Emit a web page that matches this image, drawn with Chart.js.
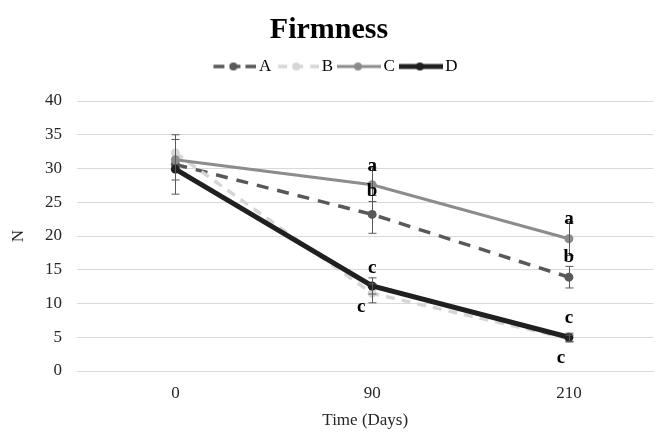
<!DOCTYPE html>
<html>
<head>
<meta charset="utf-8">
<script src="https://cdn.jsdelivr.net/npm/chart.js@4"></script>
<style>
  html, body { margin: 0; padding: 0; background: #fff; overflow: hidden; }
  #wrap { width: 658px; height: 433px; position: relative; }
</style>
</head>
<body>
<div id="wrap"><canvas id="chart"></canvas></div>
<script>
// values
const days = ['0', '90', '210'];
const valuesA = [30.6, 23.2, 13.9];
const valuesB = [32.3, 11.5, 4.8];
const valuesC = [31.3, 27.6, 19.6];
const valuesD = [29.9, 12.6, 5.0];
const errA = [4.4, 2.8, 1.6];
const errB = [0, 1.4, 0.5];
const errC = [3.0, 2.5, 2.5];
const errD = [0, 1.2, 0.6];
const lettersA = ['', 'b', 'b'];
const lettersB = ['', 'c', 'c'];
const lettersC = ['', 'a', 'a'];
const lettersD = ['', 'c', 'c'];
const yTicks = [0, 5, 10, 15, 20, 25, 30, 35, 40];

const serif = '"Liberation Serif", "DejaVu Serif", serif';

const series = [
  { label: 'A', data: valuesA, err: errA, letters: lettersA, color: '#595959', width: 3.5, dash: [12, 9], keyDash: [11, 5], order: 4, dy: [0, -23, -20], dx: [0, 0, 0] },
  { label: 'B', data: valuesB, err: errB, letters: lettersB, color: '#d6d6d6', width: 3.5, dash: [9, 7], keyDash: [9, 7], order: 3, dy: [0, 14, 19], dx: [0, -11, -8] },
  { label: 'C', data: valuesC, err: errC, letters: lettersC, color: '#8c8c8c', width: 3, dash: [], keyDash: [], order: 2, dy: [0, -19, -20], dx: [0, 0, 0] },
  { label: 'D', data: valuesD, err: errD, letters: lettersD, color: '#202020', width: 5, dash: [], keyDash: [], order: 1, dy: [0, -18, -19], dx: [0, 0, 0] }
];

// little line+dot sample for the legend
function legendSample(s) {
  const c = document.createElement('canvas');
  c.width = 44; c.height = 12;
  const g = c.getContext('2d');
  g.strokeStyle = s.color;
  g.lineWidth = s.width;
  g.setLineDash(s.keyDash);
  g.beginPath(); g.moveTo(44, 6); g.lineTo(0, 6); g.stroke();
  g.fillStyle = s.color;
  g.beginPath(); g.arc(21, 6, 4, 0, Math.PI * 2); g.fill();
  return c;
}

// room under the legend, and nudge it right like the original
const legendGap = {
  id: 'legendGap',
  beforeInit(chart) {
    const fit = chart.legend.fit;
    chart.legend.fit = function () {
      fit.bind(chart.legend)();
      this.height += 16;
    };
  },
  afterLayout(chart) {
    chart.legend.left += 9;
    chart.legend.right += 9;
  }
};

const extras = {
  id: 'extras',
  afterDatasetsDraw(chart) {
    const ctx = chart.ctx;
    const x = chart.scales.x, y = chart.scales.y;
    ctx.save();
    // error bars
    ctx.strokeStyle = '#595959';
    ctx.lineWidth = 1;
    series.forEach(s => {
      s.data.forEach((v, i) => {
        const e = s.err[i];
        if (!e) return;
        const px = Math.round(x.getPixelForValue(i)) + 0.5;
        const top = y.getPixelForValue(v + e), bot = y.getPixelForValue(v - e);
        ctx.beginPath();
        ctx.moveTo(px, top); ctx.lineTo(px, bot);
        ctx.moveTo(px - 4, top); ctx.lineTo(px + 4, top);
        ctx.moveTo(px - 4, bot); ctx.lineTo(px + 4, bot);
        ctx.stroke();
      });
    });
    // significance letters
    ctx.fillStyle = '#000';
    ctx.font = 'bold 19px ' + serif;
    ctx.textAlign = 'center';
    ctx.textBaseline = 'middle';
    series.forEach(s => {
      s.letters.forEach((t, i) => {
        if (!t) return;
        ctx.fillText(t, x.getPixelForValue(i) + s.dx[i], y.getPixelForValue(s.data[i]) + s.dy[i]);
      });
    });
    ctx.restore();
  }
};

new Chart(document.getElementById('chart'), {
  type: 'line',
  data: {
    datasets: series.map(s => ({
      label: s.label,
      data: s.data.map((v, i) => ({ x: i, y: v })),
      borderColor: s.color,
      backgroundColor: s.color,
      borderWidth: s.width,
      borderDash: s.dash,
      pointRadius: 4.5,
      pointBorderWidth: 0,
      pointBackgroundColor: s.color,
      order: s.order,
      tension: 0
    }))
  },
  options: {
    responsive: true,
    maintainAspectRatio: false,
    animation: false,
    layout: { padding: { left: 0, right: 0, top: 10, bottom: 0 } },
    plugins: {
      title: {
        display: true,
        text: 'Firmness',
        color: '#000',
        font: { family: serif, size: 30, weight: 'bold' },
        padding: { top: 2, bottom: 0 }
      },
      legend: {
        position: 'top',
        labels: {
          usePointStyle: true,
          pointStyleWidth: 32,
          padding: 10,
          color: '#000',
          font: { family: serif, size: 17 },
          generateLabels: () => series.map((s, i) => ({
            text: s.label,
            pointStyle: legendSample(s),
            datasetIndex: i,
            fontColor: '#000',
            strokeStyle: s.color,
            fillStyle: s.color,
            lineWidth: 0
          }))
        }
      },
      tooltip: { enabled: false }
    },
    scales: {
      x: {
        type: 'linear',
        min: -0.5,
        max: 2.43,
        afterFit: sc => { sc.height = 62; },
        afterBuildTicks: sc => { sc.ticks = days.map((d, i) => ({ value: i })); },
        grid: { display: false },
        border: { display: true, color: '#d9d9d9' },
        ticks: { color: '#262626', font: { family: serif, size: 17 }, padding: 4, callback: v => days[v] },
        title: { display: true, text: 'Time (Days)', color: '#262626', font: { family: serif, size: 17 }, padding: { top: 4, bottom: 2 } }
      },
      y: {
        min: 0,
        max: 40,
        afterFit: sc => { sc.width = 77; },
        afterBuildTicks: sc => { sc.ticks = yTicks.map(v => ({ value: v })); },
        grid: { color: '#d9d9d9', drawTicks: false },
        border: { display: false },
        ticks: { color: '#262626', font: { family: serif, size: 17 }, padding: 15 },
        title: { display: true, text: 'N', color: '#262626', font: { family: serif, size: 17 }, padding: { top: 8, bottom: 4 } }
      }
    }
  },
  plugins: [extras, legendGap]
});
</script>
</body>
</html>
